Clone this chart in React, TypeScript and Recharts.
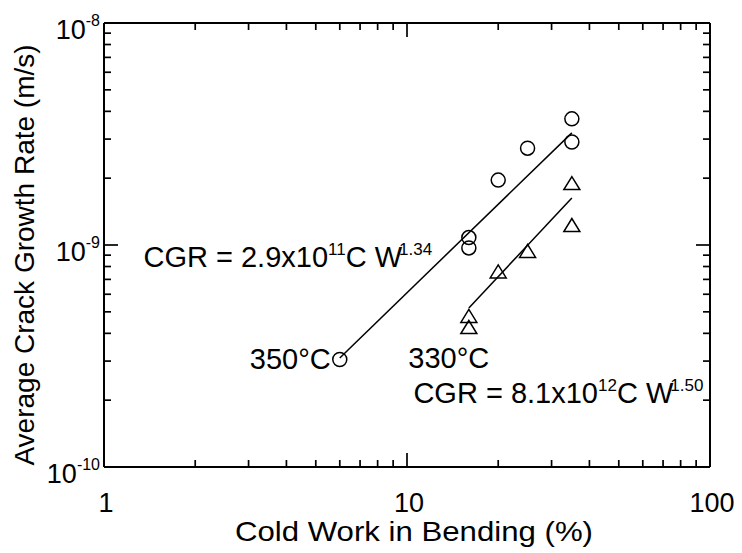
import React from 'react';
import { ScatterChart, Scatter, XAxis, YAxis, ReferenceDot, Label } from 'recharts';

const FONT = '"Liberation Sans", Arial, Helvetica, sans-serif';

// Cold work (%) and measured crack growth rate (m/s)
const cw350 = [6, 16, 16, 20, 25, 35, 35];
const cgr350 = [3.05e-10, 1.08e-9, 9.7e-10, 1.96e-9, 2.73e-9, 3.7e-9, 2.91e-9];
const cw330 = [16, 16, 20, 25, 35, 35];
const cgr330 = [4.79e-10, 4.27e-10, 7.6e-10, 9.4e-10, 1.9e-9, 1.23e-9];

// Power-law fit lines (end points)
const fit350X = [6, 35];
const fit350Y = [3.1e-10, 3.2e-9];
const fit330X = [16, 35];
const fit330Y = [5.2e-10, 1.63e-9];

// Log axis ticks
const xTicks = [1, 2, 3, 4, 5, 6, 7, 8, 9, 10, 20, 30, 40, 50, 60, 70, 80, 90, 100];
const yTicks = [
  1e-10, 2e-10, 3e-10, 4e-10, 5e-10, 6e-10, 7e-10, 8e-10, 9e-10,
  1e-9, 2e-9, 3e-9, 4e-9, 5e-9, 6e-9, 7e-9, 8e-9, 9e-9, 1e-8,
];

// Annotation anchors [cold work, rate]
const eq350Pos = [1.35, 8.0e-10];
const label350Pos = [5.6, 2.75e-10];
const label330Pos = [10.1, 2.8e-10];
const eq330Pos = [10.5, 1.94e-10];

const zip = (xs: number[], ys: number[]) => xs.map((x, i) => ({ x, y: ys[i] }));

const isDecade = (v: number) => Math.abs(Math.log10(v) - Math.round(Math.log10(v))) < 1e-6;
const MAJOR = 14;
const MINOR = 7;
const TICK_W = 1.7;

const BottomTick = (props: any) => {
  const { x, y, payload } = props;
  const v = payload.value;
  const major = isDecade(v);
  return (
    <g>
      <line x1={x} y1={y} x2={x} y2={y - (major ? MAJOR : MINOR)} stroke="#000" strokeWidth={TICK_W} />
      {major && (
        <text x={x + 2} y={y + 45} textAnchor="middle" fontSize={27} fontFamily={FONT} fill="#000">
          {String(Math.round(v))}
        </text>
      )}
    </g>
  );
};

const TopTick = (props: any) => {
  const { x, y, payload } = props;
  const major = isDecade(payload.value);
  return <line x1={x} y1={y} x2={x} y2={y + (major ? MAJOR : MINOR)} stroke="#000" strokeWidth={TICK_W} />;
};

const LeftTick = (props: any) => {
  const { x, y, payload } = props;
  const v = payload.value;
  const major = isDecade(v);
  const exp = Math.round(Math.log10(v));
  return (
    <g>
      <line x1={x} y1={y} x2={x + (major ? MAJOR : MINOR)} y2={y} stroke="#000" strokeWidth={TICK_W} />
      {major && (
        <text x={x - 4} y={y + 16} textAnchor="end" fontSize={27} fontFamily={FONT} fill="#000">
          10
          <tspan dy={-13} fontSize={16}>{String(exp)}</tspan>
        </text>
      )}
    </g>
  );
};

const RightTick = (props: any) => {
  const { x, y, payload } = props;
  const major = isDecade(payload.value);
  return <line x1={x} y1={y} x2={x - (major ? MAJOR : MINOR)} y2={y} stroke="#000" strokeWidth={TICK_W} />;
};

const OpenCircle = (props: any) => (
  <circle cx={props.cx} cy={props.cy} r={7} fill="none" stroke="#000" strokeWidth={1.5} />
);

const OpenTriangle = (props: any) => {
  const { cx, cy } = props;
  return (
    <polygon
      points={`${cx - 8},${cy + 6.5} ${cx + 8},${cy + 6.5} ${cx},${cy - 6.5}`}
      fill="none"
      stroke="#000"
      strokeWidth={1.5}
    />
  );
};

const NoMark = () => <g />;

const Equation = (coef: string, pow10: string, expo: string) => (props: any) => (
  <text x={props.cx} y={props.cy} fontSize={29} fontFamily={FONT} fill="#000">
    {`CGR = ${coef}x10`}
    <tspan dy={-12} fontSize={17}>{pow10}</tspan>
    <tspan dy={12}>C W</tspan>
    <tspan dy={-12} dx={-3} fontSize={17}>{expo}</tspan>
  </text>
);

const TempLabel = (text: string, anchor: 'start' | 'end') => (props: any) => (
  <text x={props.cx} y={props.cy} textAnchor={anchor} fontSize={29} fontFamily={FONT} fill="#000">
    {text}
  </text>
);

export default function App() {
  const axisLine = { stroke: '#000', strokeWidth: 2 };
  return (
    <div style={{ position: 'absolute', left: 0, top: 0, background: '#fff' }}>
      <ScatterChart width={742} height={553} margin={{ top: 22, right: 31, bottom: 85, left: 0 }}>
        <XAxis
          xAxisId="b"
          type="number"
          dataKey="x"
          scale="log"
          domain={[1, 100]}
          ticks={xTicks}
          interval={0}
          tick={<BottomTick />}
          tickLine={false}
          tickSize={0}
          tickMargin={0}
          axisLine={axisLine}
          height={1}
          allowDataOverflow
        >
          <Label
            position="bottom"
            content={(p: any) => (
              <text
                x={p.viewBox.x + p.viewBox.width / 2 + 7}
                y={p.viewBox.y + 74}
                textAnchor="middle"
                fontSize={28}
                textLength={358}
                lengthAdjust="spacingAndGlyphs"
                fontFamily={FONT}
                fill="#000"
              >
                Cold Work in Bending (%)
              </text>
            )}
          />
        </XAxis>
        <XAxis
          xAxisId="t"
          orientation="top"
          type="number"
          dataKey="x"
          scale="log"
          domain={[1, 100]}
          ticks={xTicks}
          interval={0}
          tick={<TopTick />}
          tickLine={false}
          tickSize={0}
          tickMargin={0}
          axisLine={axisLine}
          height={1}
          allowDataOverflow
        />
        <YAxis
          yAxisId="l"
          type="number"
          dataKey="y"
          scale="log"
          domain={[1e-10, 1e-8]}
          ticks={yTicks}
          interval={0}
          tick={<LeftTick />}
          tickLine={false}
          tickSize={0}
          tickMargin={0}
          axisLine={axisLine}
          width={104}
          allowDataOverflow
        >
          <Label
            position="left"
            content={(p: any) => {
              const cx = 34;
              const cy = p.viewBox.y + p.viewBox.height / 2 + 10;
              return (
                <text
                  x={cx}
                  y={cy}
                  transform={`rotate(-90 ${cx} ${cy})`}
                  textAnchor="middle"
                  fontSize={28}
                  fontFamily={FONT}
                  fill="#000"
                >
                  Average Crack Growth Rate (m/s)
                </text>
              );
            }}
          />
        </YAxis>
        <YAxis
          yAxisId="r"
          orientation="right"
          type="number"
          dataKey="y"
          scale="log"
          domain={[1e-10, 1e-8]}
          ticks={yTicks}
          interval={0}
          tick={<RightTick />}
          tickLine={false}
          tickSize={0}
          tickMargin={0}
          axisLine={axisLine}
          width={1}
          allowDataOverflow
        />

        <Scatter
          xAxisId="b"
          yAxisId="l"
          data={zip(fit350X, fit350Y)}
          line={{ stroke: '#000', strokeWidth: 1.5 }}
          lineType="joint"
          shape={NoMark}
          isAnimationActive={false}
        />
        <Scatter
          xAxisId="b"
          yAxisId="l"
          data={zip(fit330X, fit330Y)}
          line={{ stroke: '#000', strokeWidth: 1.5 }}
          lineType="joint"
          shape={NoMark}
          isAnimationActive={false}
        />
        <Scatter
          xAxisId="b"
          yAxisId="l"
          data={zip(cw350, cgr350)}
          shape={OpenCircle}
          isAnimationActive={false}
        />
        <Scatter
          xAxisId="b"
          yAxisId="l"
          data={zip(cw330, cgr330)}
          shape={OpenTriangle}
          isAnimationActive={false}
        />

        <ReferenceDot xAxisId="b" yAxisId="l" x={eq350Pos[0]} y={eq350Pos[1]} ifOverflow="visible" shape={Equation('2.9', '11', '1.34')} />
        <ReferenceDot xAxisId="b" yAxisId="l" x={label350Pos[0]} y={label350Pos[1]} ifOverflow="visible" shape={TempLabel('350°C', 'end')} />
        <ReferenceDot xAxisId="b" yAxisId="l" x={label330Pos[0]} y={label330Pos[1]} ifOverflow="visible" shape={TempLabel('330°C', 'start')} />
        <ReferenceDot xAxisId="b" yAxisId="l" x={eq330Pos[0]} y={eq330Pos[1]} ifOverflow="visible" shape={Equation('8.1', '12', '1.50')} />
      </ScatterChart>
    </div>
  );
}
